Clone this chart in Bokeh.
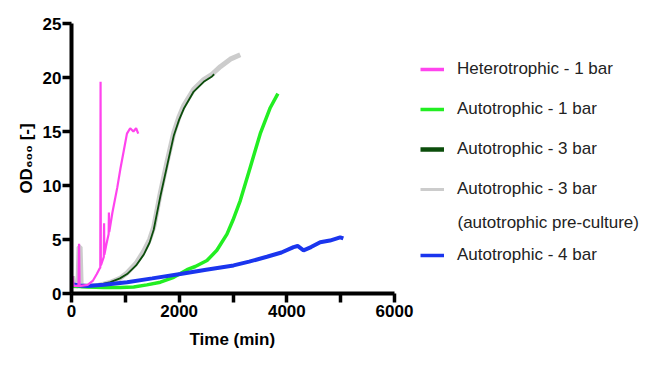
from bokeh.plotting import figure
from bokeh.models import Range1d, FixedTicker, Label, Legend, LegendItem, ColumnDataSource, Title
from bokeh.embed import file_html
from bokeh.resources import INLINE

# ---------------- data ----------------
het_t = [0, 20, 40, 130, 140, 150, 170, 300, 400, 470, 520, 535, 540, 545, 560, 600, 605, 610, 615,
         650, 690, 695, 700, 705, 760, 850, 910, 970, 1030, 1090, 1150, 1200, 1240]
het_od = [0.7, 1.6, 0.7, 0.7, 4.6, 0.7, 0.7, 0.8, 1.2, 1.8, 2.3, 2.4, 19.6, 2.6, 2.8, 3.4, 6.5, 3.6, 3.7,
          4.6, 5.5, 7.5, 5.7, 5.8, 7.5, 9.8, 11.6, 13.2, 14.8, 15.3, 15.0, 15.3, 14.8]

a1_t = [0, 300, 600, 900, 1156, 1400, 1651, 1899, 2146, 2300, 2517, 2700, 2888, 3000, 3135, 3321, 3506, 3692, 3834]
a1_od = [0.7, 0.6, 0.55, 0.55, 0.6, 0.8, 1.05, 1.5, 2.2, 2.5, 3.05, 4.0, 5.5, 6.8, 8.6, 11.7, 14.8, 17.2, 18.5]

a3_t = [0, 300, 500, 723, 900, 1033, 1200, 1342, 1450, 1527, 1651, 1775, 1899, 2000, 2085, 2270, 2456, 2610, 2650]
a3_od = [0.7, 0.7, 0.8, 1.05, 1.4, 1.8, 2.6, 3.6, 4.7, 5.9, 9.0, 11.8, 14.6, 16.1, 17.1, 18.7, 19.6, 20.1, 20.3]

a3p_t = [0, 20, 40, 120, 140, 160, 180, 300, 500, 700, 900, 1030, 1200, 1340, 1450, 1530, 1650, 1775,
         1900, 2000, 2085, 2270, 2456, 2610, 2764, 2950, 3135]
a3p_od = [0.8, 1.6, 0.7, 0.7, 4.3, 4.3, 0.7, 0.7, 0.75, 1.0, 1.4, 1.9, 2.8, 3.9, 5.0, 6.2, 9.3, 12.2,
          14.9, 16.4, 17.4, 18.9, 19.8, 20.3, 21.0, 21.7, 22.1]

a4_t = [0, 150, 300, 600, 1033, 1500, 2022, 2500, 3011, 3300, 3630, 3900, 4125, 4200, 4310, 4450, 4620, 4800, 4991, 5050]
a4_od = [0.85, 0.75, 0.7, 0.8, 1.05, 1.4, 1.8, 2.2, 2.6, 2.95, 3.4, 3.8, 4.3, 4.4, 4.0, 4.3, 4.75, 4.9, 5.2, 5.1]

x_major = [0, 2000, 4000, 6000]
x_minor = [1000, 3000, 5000]
y_major = [0, 5, 10, 15, 20, 25]

names = ["Heterotrophic - 1 bar", "Autotrophic - 1 bar", "Autotrophic - 3 bar",
         "Autotrophic - 3 bar", "Autotrophic - 4 bar"]
note = "(autotrophic pre-culture)"
x_title = "Time (min)"
y_title = "OD\u2086\u2080\u2080 [-]"

C_PINK = "#ff44ee"
C_GREEN = "#22ee22"
C_DGREEN = "#0b4d0b"
C_GRAY = "#cccccc"
C_BLUE = "#1a35ee"

FONT = "'Liberation Sans', Arial, sans-serif"

# layout: axis part of the frame is 323 px wide for 0..6000; the frame
# extends further right (axis bounded to 0..6000) so the legend sits inside it
W, H = 650, 365
LEFT, TOP, BOTTOM, RIGHT = 71, 23, 72, 4
AXIS_PX = 323
frame_w = W - LEFT - RIGHT
x_end = 6000 * frame_w / AXIS_PX

p = figure(width=W, height=H, output_backend="svg", toolbar_location=None,
           x_range=Range1d(0, x_end), y_range=Range1d(0, 25),
           min_border_left=LEFT, min_border_top=TOP, min_border_bottom=BOTTOM, min_border_right=RIGHT)
p.outline_line_color = None
p.grid.visible = False
p.background_fill_color = "white"
p.border_fill_color = "white"

# series
p.line(a3p_t, a3p_od, line_color=C_GRAY, line_width=5)
p.line(a3_t, a3_od, line_color=C_DGREEN, line_width=1.8)
p.line(a1_t, a1_od, line_color=C_GREEN, line_width=3.5)
p.line(a4_t, a4_od, line_color=C_BLUE, line_width=4)
p.line(het_t, het_od, line_color=C_PINK, line_width=2.2)

# axes
for ax in (p.xaxis[0], p.yaxis[0]):
    ax.axis_line_width = 4
    ax.axis_line_color = "black"
    ax.major_tick_line_width = 3.5
    ax.major_tick_line_color = "black"
    ax.major_tick_in = 0
    ax.major_tick_out = 9
    ax.minor_tick_line_width = 3.5
    ax.minor_tick_line_color = "black"
    ax.minor_tick_in = 0
    ax.minor_tick_out = 9
    ax.major_label_text_font = FONT
    ax.major_label_text_font_style = "bold"
    ax.major_label_text_font_size = "17px"
    ax.major_label_text_color = "black"
    ax.axis_label_text_font = FONT
    ax.axis_label_text_font_style = "bold"
    ax.axis_label_text_font_size = "17px"
    ax.axis_label_text_color = "black"

p.xaxis.major_label_standoff = 2
p.yaxis.major_label_standoff = 1
p.xaxis.bounds = (0, 6000)
p.xaxis.ticker = FixedTicker(ticks=x_major, minor_ticks=x_minor)
p.yaxis.ticker = FixedTicker(ticks=y_major, minor_ticks=[])
p.yaxis.axis_label = y_title
p.yaxis.axis_label_standoff = 4

# x-axis title centred under the 0..6000 part of the axis
p.add_layout(Title(text=x_title, align="left", offset=118, standoff=17,
                   text_font=FONT, text_font_style="bold", text_font_size="17px",
                   text_color="black"), "below")

# legend (helper renderers with no visible points give thick swatches)
nan = float("nan")
sw_colors = [C_PINK, C_GREEN, C_DGREEN, C_GRAY, C_BLUE]
sw_widths = [3.5, 3.5, 4.5, 3, 3.5]
sw = [p.line("x", "y", source=ColumnDataSource(dict(x=[nan], y=[nan])), line_color=c, line_width=w)
      for c, w in zip(sw_colors, sw_widths)]

def make_legend(items, loc):
    lg = Legend(items=items, location=loc, orientation="vertical",
                glyph_width=24, glyph_height=20, label_height=20, spacing=20,
                label_standoff=13, padding=0, margin=0,
                border_line_alpha=0, background_fill_alpha=0,
                label_text_font=FONT, label_text_font_size="17px",
                label_text_color="#222222")
    p.add_layout(lg, "center")
    return lg

make_legend([LegendItem(label=names[i], renderers=[sw[i]]) for i in range(4)], (349, 94))
make_legend([LegendItem(label=names[4], renderers=[sw[4]])], (349, 28))
p.add_layout(Label(x=386, y=70.7, x_units="screen", y_units="screen", text=note,
                   text_font=FONT, text_font_size="17px", text_color="#222222",
                   text_baseline="alphabetic", text_align="left"))

open("out.html", "w").write(file_html(p, INLINE))
